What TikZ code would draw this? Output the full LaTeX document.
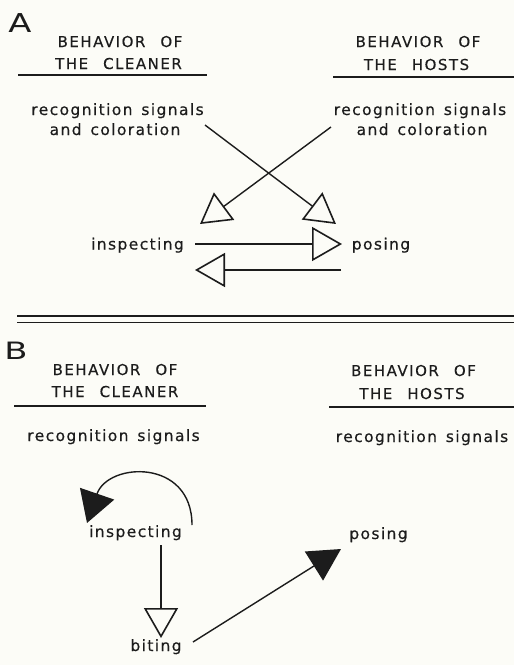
\documentclass[tikz,border=0pt]{standalone}
\usepackage{fontspec}
\setmainfont{DejaVu Sans}
\newfontfamily\capfont{DejaVu Sans}[LetterSpace=10,WordSpace=2.4,FakeBold=0.35]
\newfontfamily\lowfont{DejaVu Sans}[LetterSpace=9,WordSpace=1.4,FakeBold=0.35]
\newfontfamily\panelfont{DejaVu Sans}
\usetikzlibrary{arrows.meta}
\definecolor{ink}{RGB}{28,28,28}
\definecolor{paper}{RGB}{252,252,247}
\begin{document}
\begin{tikzpicture}[x=1pt,y=-1pt,
  every node/.style={inner sep=0pt, outer sep=0pt, text=ink, anchor=base},
  panel/.style={font=\panelfont\fontsize{26}{28}\selectfont},
  head/.style={font=\capfont\fontsize{15}{17}\selectfont},
  lbl/.style={font=\lowfont\fontsize{15.5}{17}\selectfont},
  rulel/.style={draw=ink, line width=1.6pt},
  conn/.style={draw=ink, line width=1.4pt},
  openarr/.style={conn, -{Triangle[open, length=30pt, width=34pt, line width=1.6pt]}},
  fillarr/.style={conn, -{Triangle[length=32pt, width=34pt]}},
]
\fill[paper] (0,0) rectangle (514,665);
\useasboundingbox (0,0) rectangle (514,665);

% ---------------- Panel A ----------------
\node[panel] (labA) at (20,32) {\scalebox{1.3}[1]{A}};
\node[head] (aLh1) at (120,47) {BEHAVIOR OF};
\node[head] (aLh2) at (118.5,69) {THE CLEANER};
\node[head] (aRh1) at (418,47) {BEHAVIOR OF};
\node[head] (aRh2) at (416.5,70) {THE HOSTS};
\draw[rulel] (18,75) -- (207,75);
\draw[rulel] (333,77) -- (514,77);

\node[lbl] (aLr1) at (117.5,115) {recognition signals};
\node[lbl] (aLr2) at (115,135) {and coloration};
\node[lbl] (aRr1) at (420,115) {recognition signals};
\node[lbl] (aRr2) at (422,135) {and coloration};

\node[lbl] (aInsp) at (137.5,249.5) {inspecting};
\node[lbl] (aPose) at (381,249.5) {posing};

\coordinate (a1s) at (205,125);
\coordinate (a1e) at (336,224);
\coordinate (a2s) at (331,127);
\coordinate (a2e) at (200,224);
\coordinate (a3s) at (195,244);
\coordinate (a3e) at (342,244);
\coordinate (a4s) at (341,270);
\coordinate (a4e) at (195,270);
\draw[openarr] (a1s) -- (a1e);
\draw[openarr] (a2s) -- (a2e);
\draw[openarr] (a3s) -- (a3e);
\draw[openarr] (a4s) -- (a4e);

% ---------------- separator ----------------
\draw[rulel] (17,316) -- (514,316);
\draw[rulel] (17,322.5) -- (514,322.5);

% ---------------- Panel B ----------------
\node[panel] (labB) at (16,359) {\scalebox{1.3}[0.92]{B}};
\node[head] (bLh1) at (115,375) {BEHAVIOR OF};
\node[head] (bLh2) at (115,397) {THE CLEANER};
\node[head] (bRh1) at (413.5,376) {BEHAVIOR OF};
\node[head] (bRh2) at (412,399) {THE HOSTS};
\draw[rulel] (14,406) -- (206,406);
\draw[rulel] (329,407) -- (514,407);

\node[lbl] (bLr) at (113.5,441) {recognition signals};
\node[lbl] (bRr) at (422,442) {recognition signals};

\node[lbl] (bInsp) at (135.5,537) {inspecting};
\node[lbl] (bPose) at (378.5,539) {posing};
\node[lbl] (bBite) at (156,651) {biting};

\coordinate (b1s) at (192,525);
\coordinate (b1e) at (87,523);
\coordinate (b2s) at (161,545);
\coordinate (b2e) at (161,638);
\coordinate (b3s) at (193,642);
\coordinate (b3e) at (341,549);
\draw[conn, -{Triangle[length=31pt, width=36pt]}] (b1s) .. controls (192,458) and (108,462) .. (b1e);
\draw[openarr] (b2s) -- (b2e);
\draw[fillarr] (b3s) -- (b3e);
\end{tikzpicture}
\end{document}
